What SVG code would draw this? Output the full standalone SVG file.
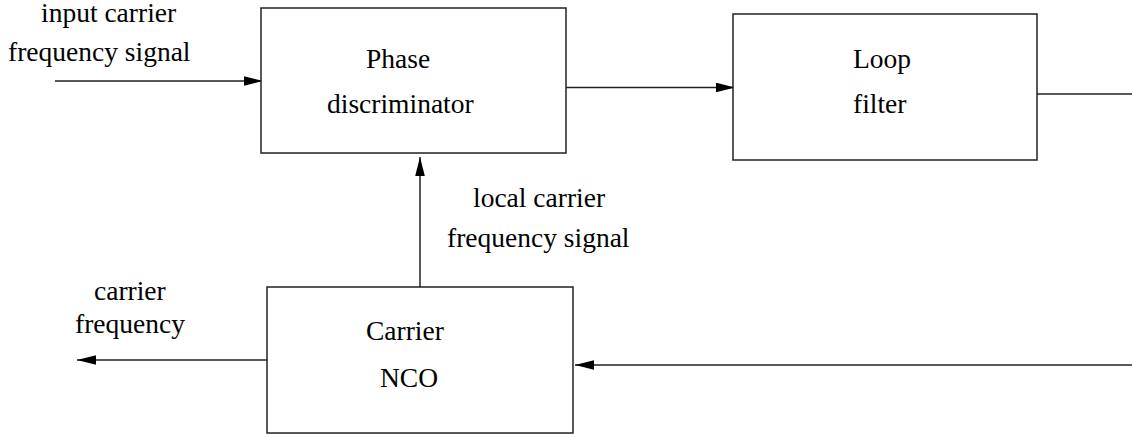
<svg xmlns="http://www.w3.org/2000/svg" width="1132" height="437" viewBox="0 0 1132 437">
  <style>
    .box { fill: #ffffff; stroke: #222222; stroke-width: 1.5; }
    .wire { fill: none; stroke: #222222; stroke-width: 1.5; }
    .lbl { font-family: "Liberation Serif", "Times New Roman", serif; font-size: 27.5px; fill: #000000; }
  </style>
  <defs>
    <marker id="arrow" markerUnits="userSpaceOnUse" markerWidth="19" markerHeight="10" refX="19" refY="5" orient="auto">
      <path d="M0,0.2 L19,5 L0,9.8 z" fill="#000000"/>
    </marker>
  </defs>
  <rect width="1132" height="437" fill="#ffffff"/>

  <!-- signal paths -->
  <g id="connectors">
    <path class="wire" d="M55,81 H263" marker-end="url(#arrow)"/>
    <path class="wire" d="M566,87.5 H735" marker-end="url(#arrow)"/>
    <path class="wire" d="M1037,94 H1132"/>
    <path class="wire" d="M1132,365 H575" marker-end="url(#arrow)"/>
    <path class="wire" d="M267,360 H77" marker-end="url(#arrow)"/>
    <path class="wire" d="M420,287 V157" marker-end="url(#arrow)"/>
  </g>

  <!-- signal labels -->
  <g id="labels">
    <text class="lbl" x="41" y="22">input carrier</text>
    <text class="lbl" x="8" y="61">frequency signal</text>
    <text class="lbl" x="473" y="207">local carrier</text>
    <text class="lbl" x="447" y="247">frequency signal</text>
    <text class="lbl" x="94" y="300">carrier</text>
    <text class="lbl" x="75" y="333">frequency</text>
  </g>

  <g id="phase-discriminator">
    <rect class="box" x="261" y="8" width="305" height="145"/>
    <text class="lbl" x="366" y="68">Phase</text>
    <text class="lbl" x="327" y="113">discriminator</text>
  </g>

  <g id="loop-filter">
    <rect class="box" x="733" y="14" width="304" height="146"/>
    <text class="lbl" x="853" y="68">Loop</text>
    <text class="lbl" x="853" y="113">filter</text>
  </g>

  <g id="carrier-nco">
    <rect class="box" x="267" y="287" width="306" height="146"/>
    <text class="lbl" x="366" y="340">Carrier</text>
    <text class="lbl" x="380" y="387">NCO</text>
  </g>
</svg>
